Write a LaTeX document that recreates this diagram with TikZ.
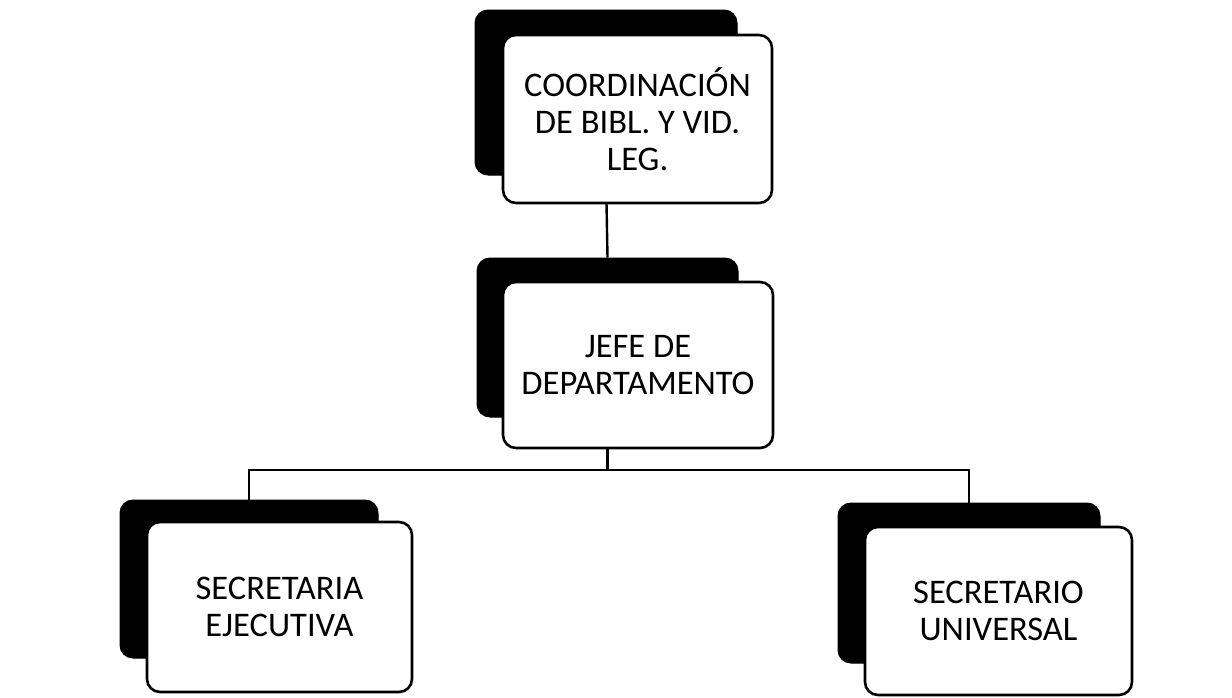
\documentclass[tikz,border=0pt]{standalone}
\usepackage{fontspec}
\setmainfont{Carlito}
\begin{document}
\begin{tikzpicture}[x=1pt,y=-1pt,
  shadowbox/.style={rectangle, rounded corners=13pt, fill=black, draw=black, line width=1pt, inner sep=0pt},
  frontbox/.style={rectangle, rounded corners=13pt, fill=white, draw=black, line width=2.6pt, inner sep=0pt, align=center, font=\fontsize{34.5}{37}\selectfont},
  link/.style={draw=black, line width=2.4pt}]
\useasboundingbox[fill=white] (0,0) rectangle (1232,697);
% shadows
\node[shadowbox, minimum width=262pt, minimum height=165pt] (s1) at (606,92.5) {};
\node[shadowbox, minimum width=261pt, minimum height=159pt] (s2) at (607.5,337.5) {};
\node[shadowbox, minimum width=258pt, minimum height=158pt] (s3) at (249,579) {};
\node[shadowbox, minimum width=262pt, minimum height=160pt] (s4) at (969,583) {};
% connectors
\coordinate (bus) at (609,470);
\draw[link] (s1.south) -- (s2.north);
\draw[link] (s2.south) -- (s2.south |- bus);
\draw[link] (s3.north) -- (s3.north |- bus) -- (s4.north |- bus) -- (s4.north);
% front boxes
\node[frontbox, minimum width=269pt, minimum height=168pt] (f1) at (637.5,119) {COORDINACIÓN\\DE BIBL. Y VID.\\LEG.};
\node[frontbox, minimum width=270pt, minimum height=166pt] (f2) at (638,365) {JEFE DE\\DEPARTAMENTO};
\node[frontbox, minimum width=265pt, minimum height=170pt] (f3) at (279.5,607) {SECRETARIA\\EJECUTIVA};
\node[frontbox, minimum width=267pt, minimum height=168pt] (f4) at (998.5,611) {SECRETARIO\\UNIVERSAL};
\end{tikzpicture}
\end{document}
